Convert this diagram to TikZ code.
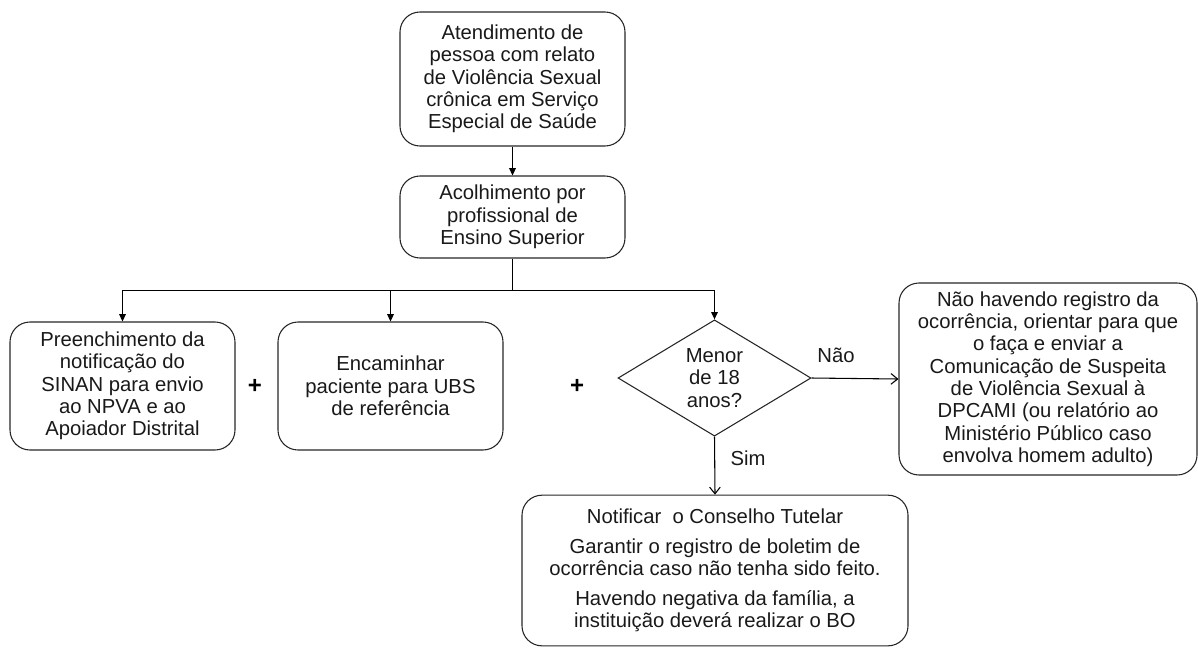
\documentclass[tikz,border=0pt]{standalone}
\usepackage{fontspec}
\setmainfont{Liberation Sans}
\usetikzlibrary{shapes.geometric,arrows.meta}
\begin{document}
\begin{tikzpicture}[x=0.75pt,y=-0.75pt,
  font=\fontsize{15.2}{16.75}\selectfont,
  box/.style={draw=black!85, line width=0.8pt, rounded corners=15pt, align=center, inner sep=0pt, text=black!90},
  dec/.style={draw=black!85, line width=0.8pt, shape=diamond, align=center, inner sep=0pt, text=black!90,
    minimum width=144.75pt, minimum height=87pt},
  tri/.style={line width=0.8pt, -{Triangle[length=5.5pt,width=5pt]}},
  barb/.style={line width=0.8pt, -{Straight Barb[length=5pt,width=8pt]}},
  plus/.style={font=\fontsize{18}{20}\selectfont\bfseries, inner sep=0pt},
  lbl/.style={inner sep=0pt, text=black!90}]
\useasboundingbox (0,0) rectangle (1198,647);

\node[box, minimum width=168.75pt, minimum height=100.5pt] (a) at (512.5,79)
  {Atendimento de\\pessoa com relato\\de Violência Sexual\\crônica em Serviço\\Especial de Saúde};
\node[box, minimum width=168.75pt, minimum height=61.5pt] (b) at (512.5,217)
  {Acolhimento por\\profissional de\\Ensino Superior};
\node[box, minimum width=168.75pt, minimum height=96pt] (c) at (122.5,386)
  {Preenchimento da\\notificação do\\SINAN para envio\\ao NPVA e ao\\Apoiador Distrital};
\node[box, minimum width=168.75pt, minimum height=96pt] (d) at (390.5,386)
  {Encaminhar\\paciente para UBS\\de referência};
\node[dec] (e) at (714.5,378) {Menor\\de 18\\anos?};
\node[box, minimum width=223.5pt, minimum height=144pt] (f) at (1048,379)
  {Não havendo registro da\\ocorrência, orientar para que\\o faça e enviar a\\Comunicação de Suspeita\\de Violência Sexual à\\DPCAMI (ou relatório ao\\Ministério Público caso\\envolva homem adulto)};
\node[box, minimum width=289.5pt, minimum height=113pt] (g) at (715,570.5)
  {Notificar\ \ o Conselho Tutelar\\[5.5pt]Garantir o registro de boletim de\\ocorrência caso não tenha sido feito.\\[5.5pt]Havendo negativa da família, a\\instituição deverá realizar o BO};

\node[plus] (p1) at (255,386) {+};
\node[plus] (p2) at (577,386) {+};
\node[lbl] (nao) at (836,355) {Não};
\node[lbl] (sim) at (748,458) {Sim};

\draw[tri] (a.south) -- (b.north);
\draw[tri] (b.south) -- ++(0,32) coordinate (j) -| (c.north);
\draw[tri] (j) -| (d.north);
\draw[tri] (j) -| (e.north);
\draw[barb] (e.east) -- (f.west);
\draw[barb] (e.south) -- (g.north);
\end{tikzpicture}
\end{document}
